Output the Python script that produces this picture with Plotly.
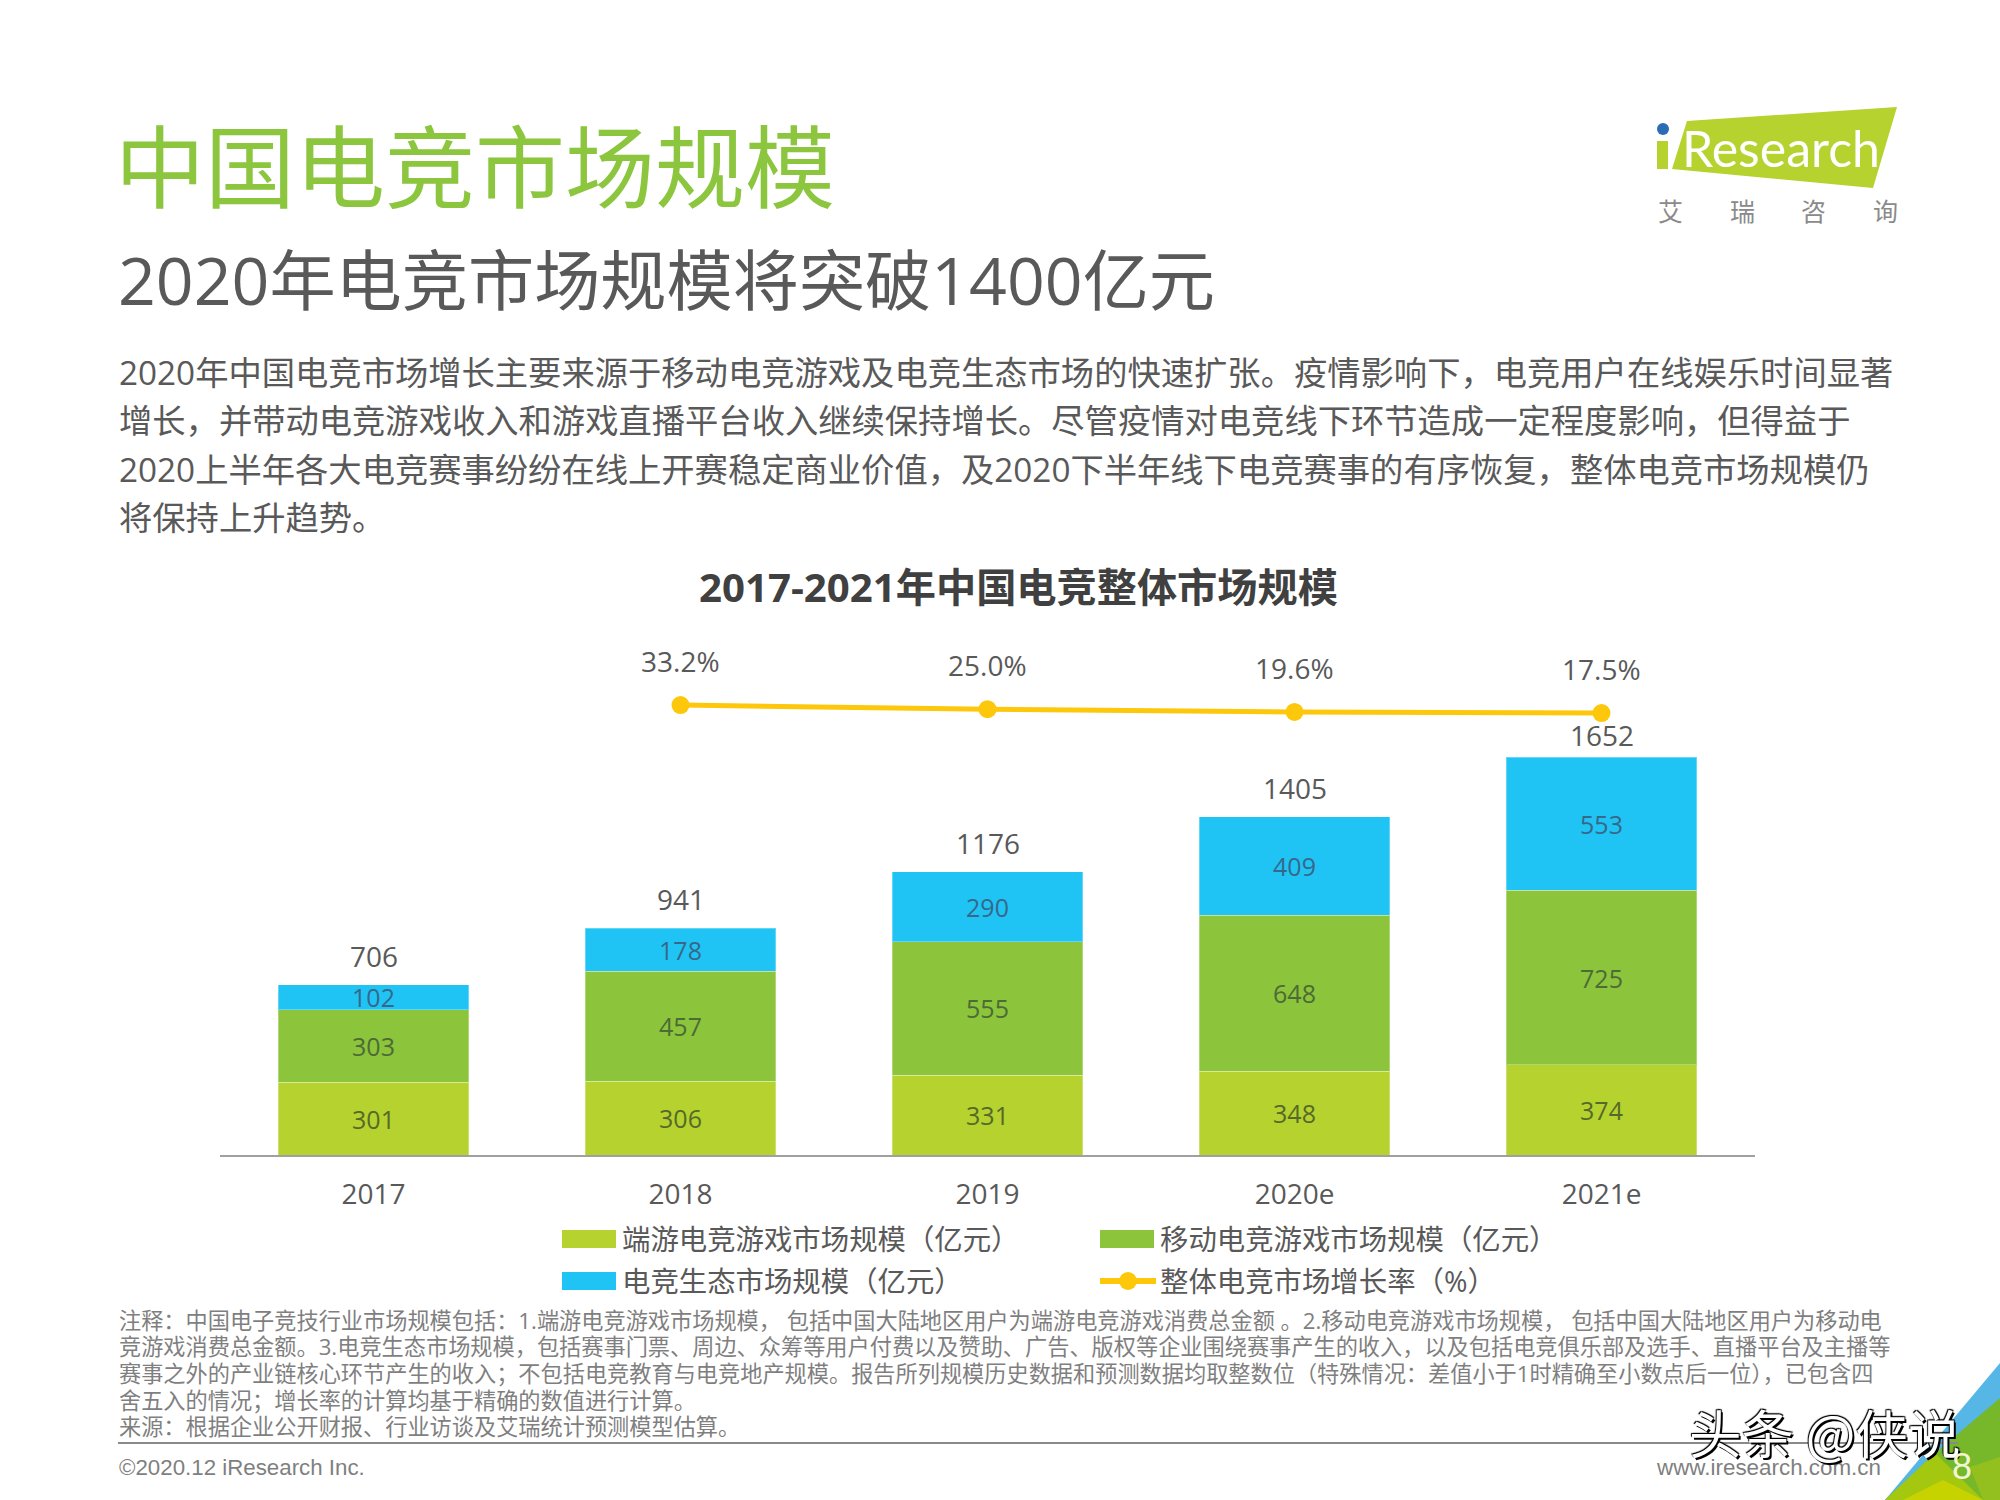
import plotly.graph_objects as go

W = 2000
H = 1500

years = ['2017', '2018', '2019', '2020e', '2021e']
pc_game = [301, 306, 331, 348, 374]
mobile_game = [303, 457, 555, 648, 725]
ecosystem = [102, 178, 290, 409, 553]
totals = [706, 941, 1176, 1405, 1652]
growth_years = ['2018', '2019', '2020e', '2021e']
growth = [33.2, 25.0, 19.6, 17.5]

title_text = '中国电竞市场规模'
subtitle_text = '2020年电竞市场规模将突破1400亿元'
chart_title = '2017-2021年中国电竞整体市场规模'
body_lines = [
    '2020年中国电竞市场增长主要来源于移动电竞游戏及电竞生态市场的快速扩张。疫情影响下，电竞用户在线娱乐时间显著',
    '增长，并带动电竞游戏收入和游戏直播平台收入继续保持增长。尽管疫情对电竞线下环节造成一定程度影响，但得益于',
    '2020上半年各大电竞赛事纷纷在线上开赛稳定商业价值，及2020下半年线下电竞赛事的有序恢复，整体电竞市场规模仍',
    '将保持上升趋势。',
]
note_lines = [
    '注释：中国电子竞技行业市场规模包括：1.端游电竞游戏市场规模， 包括中国大陆地区用户为端游电竞游戏消费总金额 。2.移动电竞游戏市场规模， 包括中国大陆地区用户为移动电',
    '竞游戏消费总金额。3.电竞生态市场规模，包括赛事门票、周边、众筹等用户付费以及赞助、广告、版权等企业围绕赛事产生的收入，以及包括电竞俱乐部及选手、直播平台及主播等',
    '赛事之外的产业链核心环节产生的收入；不包括电竞教育与电竞地产规模。报告所列规模历史数据和预测数据均取整数位（特殊情况：差值小于1时精确至小数点后一位），已包含四',
    '舍五入的情况；增长率的计算均基于精确的数值进行计算。',
    '来源：根据企业公开财报、行业访谈及艾瑞统计预测模型估算。',
]
legend_names = ['端游电竞游戏市场规模（亿元）', '移动电竞游戏市场规模（亿元）', '电竞生态市场规模（亿元）', '整体电竞市场增长率（%）']

GREEN_1 = '#b5d22e'
GREEN_2 = '#8cc43c'
BLUE = '#1fc4f4'
YELLOW = '#fdc80c'
TEXT = '#595959'
CJK = '"Open Sans", "Noto Sans CJK SC", sans-serif'
ARIAL = '"Liberation Sans", "Noto Sans CJK SC", sans-serif'


def label(fig, x, y, text, size, color=TEXT, anchor='left', family=CJK):
    """Put a text on the page, x and y in page pixels."""
    fig.add_annotation(
        x=x / W, y=1 - y / H, xref='paper', yref='paper',
        text=text, showarrow=False, xanchor=anchor, yanchor='middle',
        font=dict(size=size, color=color, family=family),
    )


def polygon(fig, points, color):
    """Draw a filled decoration polygon from page pixels."""
    path = 'M' + 'L'.join(f'{x / W},{1 - y / H}' for x, y in points) + 'Z'
    fig.add_shape(type='path', path=path, xref='paper', yref='paper',
                  fillcolor=color, line=dict(width=0), layer='below')


fig = go.Figure()

bar_series = [
    (legend_names[0], pc_game, GREEN_1, '#56692a'),
    (legend_names[1], mobile_game, GREEN_2, '#4c6b35'),
    (legend_names[2], ecosystem, BLUE, '#37688a'),
]
for name, values, color, text_color in bar_series:
    fig.add_trace(go.Bar(
        x=years, y=values, name=name,
        marker=dict(color=color, line=dict(width=1, color='rgba(255,255,255,0.3)')),
        text=[str(v) for v in values],
        textposition='inside', insidetextanchor='middle', textangle=0,
        constraintext='none',
        textfont=dict(size=25, color=text_color, family=CJK),
    ))

fig.add_trace(go.Scatter(
    x=growth_years, y=growth, mode='lines+markers', name=legend_names[3], yaxis='y2',
    line=dict(color=YELLOW, width=5), marker=dict(color=YELLOW, size=18),
))

# totals above the stacks, the last one is squeezed under the line in the original
for i, total in enumerate(totals):
    fig.add_annotation(
        x=i, y=total, yshift=22 if i == len(totals) - 1 else 29, text=str(total), showarrow=False,
        font=dict(size=28, color=TEXT, family=CJK),
    )

# category axis takes the index here, '2018' as a string would be read as a position
for year, value in zip(growth_years, growth):
    fig.add_annotation(
        x=years.index(year), y=value, yref='y2', yshift=44, text=f'{value:.1f}%', showarrow=False,
        font=dict(size=28, color=TEXT, family=CJK),
    )

fig.update_layout(
    width=W, height=H,
    margin=dict(l=0, r=0, t=0, b=0),
    paper_bgcolor='white', plot_bgcolor='rgba(0,0,0,0)',
    barmode='stack', bargap=0.378, showlegend=False,
    xaxis=dict(
        domain=[220 / W, 1755 / W], type='category', categoryorder='array', categoryarray=years,
        range=[-0.5, 4.5], showline=True, linecolor='#a0a0a0', linewidth=2,
        showgrid=False, ticks='', ticklabelstandoff=13,
        tickfont=dict(size=28, color=TEXT, family=CJK),
    ),
    yaxis=dict(domain=[1 - 1155 / H, 1 - 655 / H], range=[0, 2075.6], visible=False),
    yaxis2=dict(domain=[1 - 730 / H, 1 - 690 / H], range=[-15.8, 62.7], visible=False, anchor='x'),
)

# heading block
label(fig, 113, 166, title_text, 90, '#8cc63f')
label(fig, 116, 279, subtitle_text, 66.2)
for y, line in zip([372, 420, 469, 517], body_lines):
    label(fig, 117, y, line, 33.3)
label(fig, 1018, 586, chart_title, 40.2, '#404040', anchor='center')
fig.layout.annotations[-1].font.weight = 'bold'

# logo
polygon(fig, [(1687, 121), (1897, 107), (1873, 188), (1672, 169)], '#b5d22e')
polygon(fig, [(1657, 141), (1668, 141), (1668, 169), (1657, 169)], '#b5d22e')
fig.add_shape(type='circle', xref='paper', yref='paper', fillcolor='#2a6db5', line=dict(width=0),
              x0=1657 / W, x1=1669 / W, y0=1 - 135 / H, y1=1 - 123 / H)
label(fig, 1680, 148, 'Research', 50, 'white', family='Lato, "Open Sans", sans-serif')
for x, ch in zip([1670, 1742, 1813, 1885], '艾瑞咨询'):
    label(fig, x, 211, ch, 25, '#8a8a8a', anchor='center')

# hand placed legend, the swatches are wider than the library's own
legend_pos = [(562, 1239), (1100, 1239), (562, 1281), (1100, 1281)]
legend_colors = [GREEN_1, GREEN_2, BLUE, YELLOW]
for i, ((x, y), name, color) in enumerate(zip(legend_pos, legend_names, legend_colors)):
    if i < 3:
        polygon(fig, [(x, y - 9), (x + 54, y - 9), (x + 54, y + 9), (x, y + 9)], color)
    else:
        polygon(fig, [(x, y - 3), (x + 56, y - 3), (x + 56, y + 3), (x, y + 3)], color)
        fig.add_shape(type='circle', xref='paper', yref='paper', fillcolor=color, line=dict(width=0),
                      x0=(x + 19) / W, x1=(x + 37) / W, y0=1 - (y + 9) / H, y1=1 - (y - 9) / H)
    label(fig, x + 58, y, name, 28.4)

# notes and footer
for y, line in zip([1320, 1346, 1373, 1400, 1426], note_lines):
    label(fig, 117, y, line, 22.2, '#7f7f7f')
fig.add_shape(type='line', xref='paper', yref='paper', x0=118 / W, x1=1958 / W,
              y0=1 - 1443 / H, y1=1 - 1443 / H, line=dict(color='#8a8a8a', width=2))
label(fig, 117, 1467, '©2020.12 iResearch Inc.', 22.3, '#7f7f7f', family=ARIAL)
label(fig, 1883, 1467, 'www.iresearch.com.cn', 22.4, '#7f7f7f', anchor='right', family=ARIAL)

# corner decoration
polygon(fig, [(2000, 1363), (1885, 1500), (2000, 1500)], '#56b7e6')
polygon(fig, [(2000, 1398), (1933, 1455), (1885, 1500), (2000, 1500)], '#76b82a')
polygon(fig, [(2000, 1457), (1970, 1467), (1983, 1500), (2000, 1500)], '#93c01f')
polygon(fig, [(1935, 1453), (1885, 1500), (1983, 1500)], '#a4c80f')
polygon(fig, [(1943, 1480), (1903, 1500), (1983, 1500)], '#c6d300')

# watermark, drawn under the page number
label(fig, 1824, 1431, '头条 @侠说', 52.5, 'white', anchor='center', family='"Noto Sans CJK SC", sans-serif')
fig.layout.annotations[-1].font.shadow = '2px 2px 0 #000000, -1px -1px 1px #000000, 1px -1px 1px #000000'
label(fig, 1962, 1466, '8', 36, '#f1f6d0', anchor='center', family=ARIAL)

fig.write_html('out.html', config={'displayModeBar': False}, post_script="document.body.style.margin='0';")
